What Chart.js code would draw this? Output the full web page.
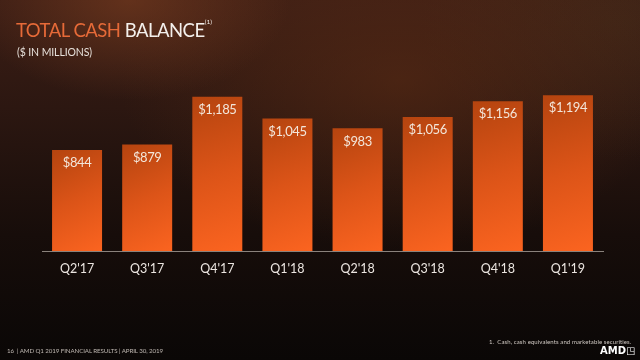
<!DOCTYPE html>
<html>
<head>
<meta charset="utf-8">
<script src="https://cdn.jsdelivr.net/npm/chart.js@4.4.0/dist/chart.umd.min.js"></script>
<style>
  html, body { margin:0; padding:0; width:640px; height:360px; overflow:hidden; }
  body {
    position:relative;
    font-family: Lato, "Open Sans", sans-serif;
    background:
      radial-gradient(ellipse 160px 100px at 130px 0px, rgba(125,62,32,0.6), rgba(125,62,32,0) 100%),
      radial-gradient(ellipse 280px 170px at 400px 80px, rgba(95,45,20,0.55), rgba(95,45,20,0) 100%),
      radial-gradient(ellipse 200px 140px at 620px 20px, rgba(70,45,25,0.5), rgba(70,45,25,0) 100%),
      linear-gradient(180deg, #3c1e15 0%, #2c1711 30%, #170d0a 65%, #0a0706 100%);
  }
  #wrap { position:absolute; left:0; top:0; width:640px; height:360px; }
  .title { position:absolute; left:16px; top:19px; font-size:18.5px; font-weight:400; color:#f4f0ec; white-space:nowrap; letter-spacing:-0.5px; }
  .title .or { color:#e66a38; }
  .title sup { font-size:6.5px; vertical-align:top; position:relative; top:-1px; margin-left:0px; letter-spacing:0; }
  .sub { position:absolute; left:17px; top:46px; font-size:10.5px; color:#e6e0da; white-space:nowrap; letter-spacing:-0.1px; }
  .footer { position:absolute; left:7px; top:347px; font-size:6.2px; color:#bdb6b0; white-space:nowrap; letter-spacing:-0.1px; }
  .note { position:absolute; left:489px; top:338px; font-size:6px; color:#cfc8c2; white-space:nowrap; letter-spacing:0.1px; }
  .logo { position:absolute; left:600px; top:345px; font-size:10px; font-weight:900; color:#ffffff; font-family: "DejaVu Sans", sans-serif; }
</style>
</head>
<body>
<div id="wrap"><canvas id="c" width="640" height="360"></canvas></div>
<div class="title"><span class="or">TOTAL CASH</span> BALANCE<sup>(1)</sup></div>
<div class="sub">($ IN MILLIONS)</div>
<div class="footer">16&nbsp;&nbsp;| AMD Q1 2019 FINANCIAL RESULTS | APRIL 30, 2019</div>
<div class="note">1.&nbsp; Cash, cash equivalents and marketable securities.</div>
<div class="logo">AMD&#x25F3;</div>
<script>
const categories = ["Q2'17", "Q3'17", "Q4'17", "Q1'18", "Q2'18", "Q3'18", "Q4'18", "Q1'19"];
const cashBalance = [844, 879, 1185, 1045, 983, 1056, 1156, 1194];
const valueLabels = ["$844", "$879", "$1,185", "$1,045", "$983", "$1,056", "$1,156", "$1,194"];

function barFill(ctx) {
  const chart = ctx.chart;
  if (!chart.chartArea || ctx.type !== 'data') return '#e0581a';
  const xs = chart.scales.x, ys = chart.scales.y;
  const x = xs.getPixelForValue(ctx.dataIndex);
  const top = ys.getPixelForValue(cashBalance[ctx.dataIndex]);
  const base = chart.chartArea.bottom;
  const g = chart.ctx.createLinearGradient(x - 25, top, x + 25, base);
  g.addColorStop(0, '#b5440f');
  g.addColorStop(0.5, '#dc5418');
  g.addColorStop(1, '#fb6420');
  return g;
}

const labelPlugin = {
  id: 'valueLabels',
  afterDatasetsDraw(chart) {
    const meta = chart.getDatasetMeta(0);
    const c = chart.ctx;
    c.save();
    c.font = '13px Lato, sans-serif';
    if ('letterSpacing' in c) c.letterSpacing = '-0.4px';
    c.fillStyle = '#f3e6da';
    c.textAlign = 'center';
    c.textBaseline = 'middle';
    meta.data.forEach((el, i) => {
      c.fillText(valueLabels[i], el.x, el.y + 13);
    });
    c.restore();
  }
};

new Chart(document.getElementById('c'), {
  type: 'bar',
  data: {
    labels: categories,
    datasets: [{
      data: cashBalance,
      backgroundColor: barFill,
      borderWidth: 0,
      barPercentage: 0.713,
      categoryPercentage: 1.0
    }]
  },
  options: {
    responsive: false,
    animation: false,
    events: [],
    layout: { padding: { left: 42, right: 37, top: 63, bottom: 0 } },
    plugins: { legend: { display: false }, tooltip: { enabled: false }, title: { display: false } },
    scales: {
      y: { display: false, min: 200, max: 1400 },
      x: {
        grid: { display: false, drawTicks: false },
        border: { display: true, color: '#8a827c', width: 1 },
        ticks: { color: '#ebe5e0', font: { family: 'Lato', size: 12.5 }, padding: 10 },
        afterFit(scale) { scale.height = 109; }
      }
    }
  },
  plugins: [labelPlugin]
});
</script>
</body>
</html>
